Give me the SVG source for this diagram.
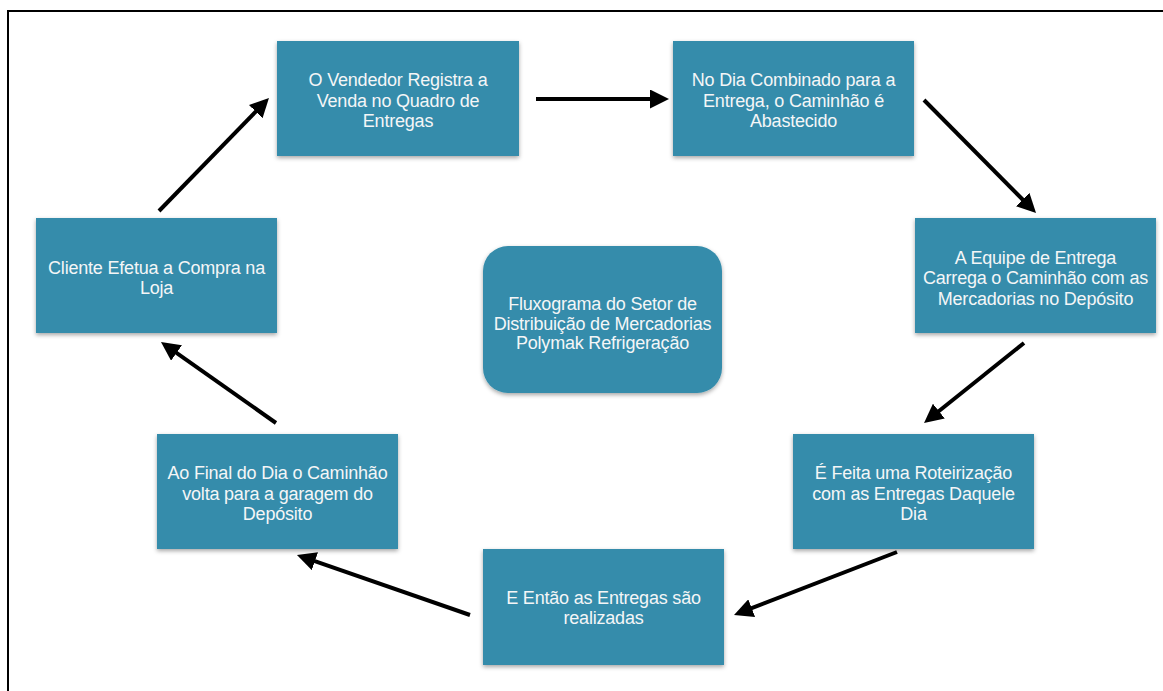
<svg xmlns="http://www.w3.org/2000/svg" width="1163" height="691" viewBox="0 0 1163 691">
<defs>
<style>
.box{fill:#348cab;filter:url(#sh);}
.t{font-family:"Liberation Sans",Arial,Helvetica,sans-serif;font-size:18px;letter-spacing:-0.2px;fill:#f4f6f7;text-anchor:middle;}
.c{stroke:#000;stroke-width:4;fill:none;marker-end:url(#ah);}
</style>
<filter id="sh" x="-10%" y="-10%" width="120%" height="130%">
<feDropShadow dx="0" dy="2" stdDeviation="2" flood-color="#000" flood-opacity="0.35"/>
</filter>
<marker id="ah" markerUnits="userSpaceOnUse" markerWidth="19" markerHeight="19" refX="7" refY="9.5" orient="auto">
<path d="M0,0 L19,9.5 L0,19 z" fill="#000"/>
</marker>
</defs>
<rect width="1163" height="691" fill="#fff"/>
<path d="M8,691 V11 H1163" fill="none" stroke="#000" stroke-width="2"/>

<g id="n1">
<rect class="box" x="277" y="41" width="242" height="115"/>
<text class="t" x="398" y="86">O Vendedor Registra a</text>
<text class="t" x="398" y="107">Venda no Quadro de</text>
<text class="t" x="398" y="127">Entregas</text>
</g>
<g id="n2">
<rect class="box" x="673" y="41" width="241" height="115"/>
<text class="t" x="793.5" y="86">No Dia Combinado para a</text>
<text class="t" x="793.5" y="107">Entrega, o Caminhão é</text>
<text class="t" x="793.5" y="127">Abastecido</text>
</g>
<g id="n3">
<rect class="box" x="915" y="218" width="241" height="115"/>
<text class="t" x="1035.5" y="264">A Equipe de Entrega</text>
<text class="t" x="1035.5" y="284">Carrega o Caminhão com as</text>
<text class="t" x="1035.5" y="305">Mercadorias no Depósito</text>
</g>
<g id="n4">
<rect class="box" x="793" y="434" width="241" height="115"/>
<text class="t" x="913.5" y="479">É Feita uma Roteirização</text>
<text class="t" x="913.5" y="500">com as Entregas Daquele</text>
<text class="t" x="913.5" y="520">Dia</text>
</g>
<g id="n5">
<rect class="box" x="483" y="549" width="241" height="116"/>
<text class="t" x="603.5" y="604">E Então as Entregas são</text>
<text class="t" x="603.5" y="624">realizadas</text>
</g>
<g id="n6">
<rect class="box" x="157" y="434" width="241" height="115"/>
<text class="t" x="277.5" y="479">Ao Final do Dia o Caminhão</text>
<text class="t" x="277.5" y="500">volta para a garagem do</text>
<text class="t" x="277.5" y="520">Depósito</text>
</g>
<g id="n7">
<rect class="box" x="36" y="218" width="241" height="115"/>
<text class="t" x="156.5" y="274">Cliente Efetua a Compra na</text>
<text class="t" x="156.5" y="294">Loja</text>
</g>
<g id="title">
<rect class="box" x="483" y="246" width="239" height="147" rx="25" ry="25"/>
<text class="t" x="602.5" y="310">Fluxograma do Setor de</text>
<text class="t" x="602.5" y="330">Distribuição de Mercadorias</text>
<text class="t" x="602.5" y="349">Polymak Refrigeração</text>
</g>

<g id="connectors">
<line class="c" x1="536" y1="99" x2="657" y2="99"/>
<line class="c" x1="924" y1="100" x2="1027.6" y2="204.5"/>
<line class="c" x1="1024" y1="343" x2="933.4" y2="415.5"/>
<line class="c" x1="897" y1="552" x2="745.2" y2="610.7"/>
<line class="c" x1="470" y1="615" x2="308.3" y2="558.9"/>
<line class="c" x1="276" y1="423" x2="170.8" y2="348.9"/>
<line class="c" x1="159" y1="211" x2="260.6" y2="106.6"/>
</g>
</svg>
